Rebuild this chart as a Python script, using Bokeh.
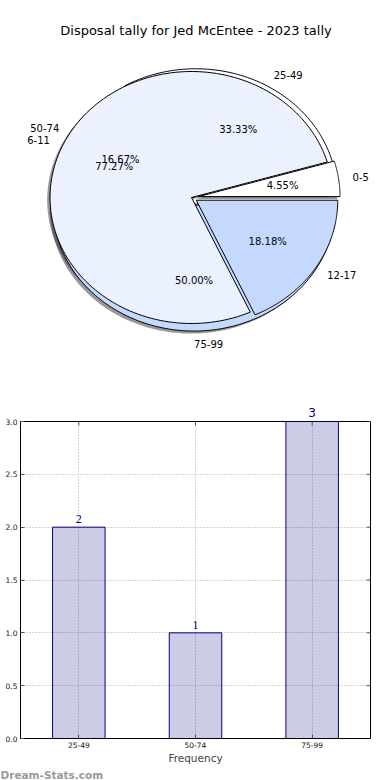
import numpy as np
from bokeh.plotting import figure
from bokeh.models import (ColumnDataSource, Range1d, Label, LabelSet,
                          FixedTicker, LinearAxis, Title)
from bokeh.layouts import column
from bokeh.embed import file_html
from bokeh.resources import INLINE

# ---------------- data ----------------
title_text = "Disposal tally for Jed McEntee - 2023 tally"
ranges_a = ["25-49", "50-74", "75-99"]
counts_a = [2, 1, 3]
ranges_b = ["0-5", "6-11", "12-17"]
counts_b = [1, 17, 4]
bar_labels = ["25-49", "50-74", "75-99"]
bar_values = [2, 1, 3]
y_ticks = [0.0, 0.5, 1.0, 1.5, 2.0, 2.5, 3.0]
x_axis_title = "Frequency"
watermark = "Dream-Stats.com"

# ---------------- style ----------------
pie_colors = ["#ffffff", "#ebf1ff", "#c5d9ff"]
explode_a = [0.025, 0.0, 0.06]
explode_b = [0.05, 0.0, 0.04]
shift_a = (0.018, 0.0)     # small offset of the underlying pie
shift_b = (0.0, 0.0)
FONT = "DejaVu Sans"
BL, BR = 20, 20            # left / right borders shared by both figures

# ---------------- pie figure ----------------
W1, H1 = 390, 400
CX, CY = 191, 197      # pie centre in page pixels
RX, RY = 141.5, 126    # pie radii in pixels (elliptical pie)

p1 = figure(width=W1, height=H1, output_backend="svg", toolbar_location=None,
            x_range=Range1d((BL - CX) / RX, (W1 - BR - CX) / RX),
            y_range=Range1d(-(H1 - CY) / RY, CY / RY),
            min_border_left=BL, min_border_right=BR,
            min_border_top=0, min_border_bottom=0)
p1.axis.visible = False
p1.grid.visible = False
p1.outline_line_color = None


def px(x):
    return (x - CX) / RX


def py(y):
    return (CY - y) / RY


def pie_parts(counts, explode, shift):
    total = float(sum(counts))
    fr = np.array(counts) / total
    t1 = np.concatenate([[0.0], np.cumsum(fr)[:-1]]) * 2 * np.pi
    t2 = np.cumsum(fr) * 2 * np.pi
    polys_x, polys_y, mids, offs = [], [], [], []
    for a0, a1, e in zip(t1, t2, explode):
        mid = 0.5 * (a0 + a1)
        ox = shift[0] + e * np.cos(mid)
        oy = shift[1] + e * np.sin(mid)
        t = np.linspace(a0, a1, 150)
        polys_x.append(list(np.concatenate([[ox], ox + np.cos(t), [ox]])))
        polys_y.append(list(np.concatenate([[oy], oy + np.sin(t), [oy]])))
        mids.append(mid)
        offs.append((ox, oy))
    return fr, polys_x, polys_y, mids, offs


parts = [pie_parts(counts_a, explode_a, shift_a),
         pie_parts(counts_b, explode_b, shift_b)]

# shadows first (drawn under all wedges)
for fr, xs, ys, mids, offs in parts:
    sx = [[v - 0.02 for v in poly] for poly in xs]
    sy = [[v - 0.02 for v in poly] for poly in ys]
    p1.patches(sx, sy, fill_color="#333333", fill_alpha=0.5, line_color=None)

for fr, xs, ys, mids, offs in parts:
    p1.patches(xs, ys, fill_color=pie_colors, line_color="black", line_width=1)

for (fr, xs, ys, mids, offs), names in zip(parts, [ranges_a, ranges_b]):
    lx, ly, al, pxs, pys, ptxt = [], [], [], [], [], []
    for f, m, (ox, oy), nm in zip(fr, mids, offs, names):
        c, s = np.cos(m), np.sin(m)
        lx.append(ox + 1.1 * c)
        ly.append(oy + 1.1 * s)
        al.append("left" if c > -1e-9 else "right")
        pxs.append(ox + 0.6 * c)
        pys.append(oy + 0.6 * s)
        ptxt.append("%.2f%%" % (f * 100))
    src_l = ColumnDataSource(dict(x=lx, y=ly, t=names, a=al))
    p1.text(x="x", y="y", text="t", text_align="a", text_baseline="middle",
            text_font_size="10px", text_font={"value": FONT},
            text_color="black", source=src_l)
    src_p = ColumnDataSource(dict(x=pxs, y=pys, t=ptxt))
    p1.text(x="x", y="y", text="t", text_align="center", text_baseline="middle",
            text_font_size="10px", text_font={"value": FONT},
            text_color="black", source=src_p)

p1.add_layout(Label(x=px(195.5), y=py(30), text=title_text,
                    text_align="center", text_baseline="middle",
                    text_font_size="13px", text_font=FONT, text_color="black"))

# ---------------- bar figure ----------------
W2, H2 = 390, 380
xpos = list(range(len(bar_labels)))
y_max = y_ticks[-1]
p2 = figure(width=W2, height=H2, output_backend="svg", toolbar_location=None,
            x_range=Range1d(-0.5, len(bar_labels) - 0.5),
            y_range=Range1d(y_ticks[0], y_max),
            min_border_left=BL, min_border_right=BR,
            min_border_top=21, min_border_bottom=40)

src_b = ColumnDataSource(dict(x=xpos, top=bar_values))
p2.vbar(x="x", top="top", width=0.45, source=src_b,
        fill_color="navy", fill_alpha=0.2, line_color="navy", line_width=1)

# main axes (configured before any extra axis is added)
xt = FixedTicker(ticks=xpos)
yt = FixedTicker(ticks=y_ticks)
xa = p2.xaxis[0]
ya = p2.yaxis[0]
xa.ticker = xt
ya.ticker = yt
xa.major_label_overrides = {i: l for i, l in zip(xpos, bar_labels)}
ya.major_label_overrides = {t: "%.1f" % t for t in y_ticks}
p2.xgrid.ticker = xt
p2.ygrid.ticker = yt
for ax in (xa, ya):
    ax.major_label_text_font_size = "7.5px"
    ax.major_label_text_font = FONT
    ax.major_label_text_color = "#111111"
    ax.major_tick_in = 4
    ax.major_tick_out = 0
    ax.minor_tick_in = 0
    ax.minor_tick_out = 0
    ax.major_tick_line_color = "#555555"
    ax.axis_line_color = "black"
    ax.major_label_standoff = 3
xa.axis_label = x_axis_title
xa.axis_label_text_font_size = "10.5px"
xa.axis_label_text_font = FONT
xa.axis_label_text_font_style = "normal"
xa.axis_label_standoff = 1

# value labels: inside the frame as a LabelSet; bars that reach the top get
# their value on an axis above the frame (annotations are clipped to the frame)
low = [(i, v) for i, v in zip(xpos, bar_values) if v < y_max]
high = [(i, v) for i, v in zip(xpos, bar_values) if v >= y_max]
src_low = ColumnDataSource(dict(x=[i for i, v in low], y=[v for i, v in low],
                                lab=[str(v) for i, v in low]))
p2.add_layout(LabelSet(x="x", y="y", text="lab", source=src_low,
                       text_align="center", text_baseline="bottom", y_offset=4,
                       text_color="navy", text_font_size="12px", text_font=FONT))
top_axis = LinearAxis(ticker=FixedTicker(ticks=[i for i, v in high]),
                      major_label_overrides={i: str(v) for i, v in high},
                      major_label_text_color="navy",
                      major_label_text_font_size="12px",
                      major_label_text_font=FONT,
                      major_label_standoff=5,
                      major_tick_in=0, major_tick_out=0,
                      minor_tick_in=0, minor_tick_out=0,
                      axis_line_color=None)
p2.add_layout(top_axis, "above")

# inward ticks on the top and right edges
p2.ray(x=xpos, y=[y_max] * len(xpos), length=4, length_units="screen",
       angle=-np.pi / 2, line_color="#555555", line_width=1)
p2.ray(x=[len(bar_labels) - 0.5] * len(y_ticks), y=y_ticks, length=4,
       length_units="screen", angle=np.pi, line_color="#555555", line_width=1)

p2.xgrid.grid_line_color = "#aaaaaa"
p2.ygrid.grid_line_color = "#aaaaaa"
p2.xgrid.grid_line_dash = "1 2"
p2.ygrid.grid_line_dash = "1 2"
p2.outline_line_color = "black"
p2.outline_line_width = 1

p2.add_layout(Title(text=watermark, align="left", offset=-BL, standoff=0,
                    text_font_size="10.5px", text_font=FONT,
                    text_font_style="bold", text_color="#999999"), "below")

layout = column(p1, p2)
open("out.html", "w").write(file_html(layout, INLINE))
